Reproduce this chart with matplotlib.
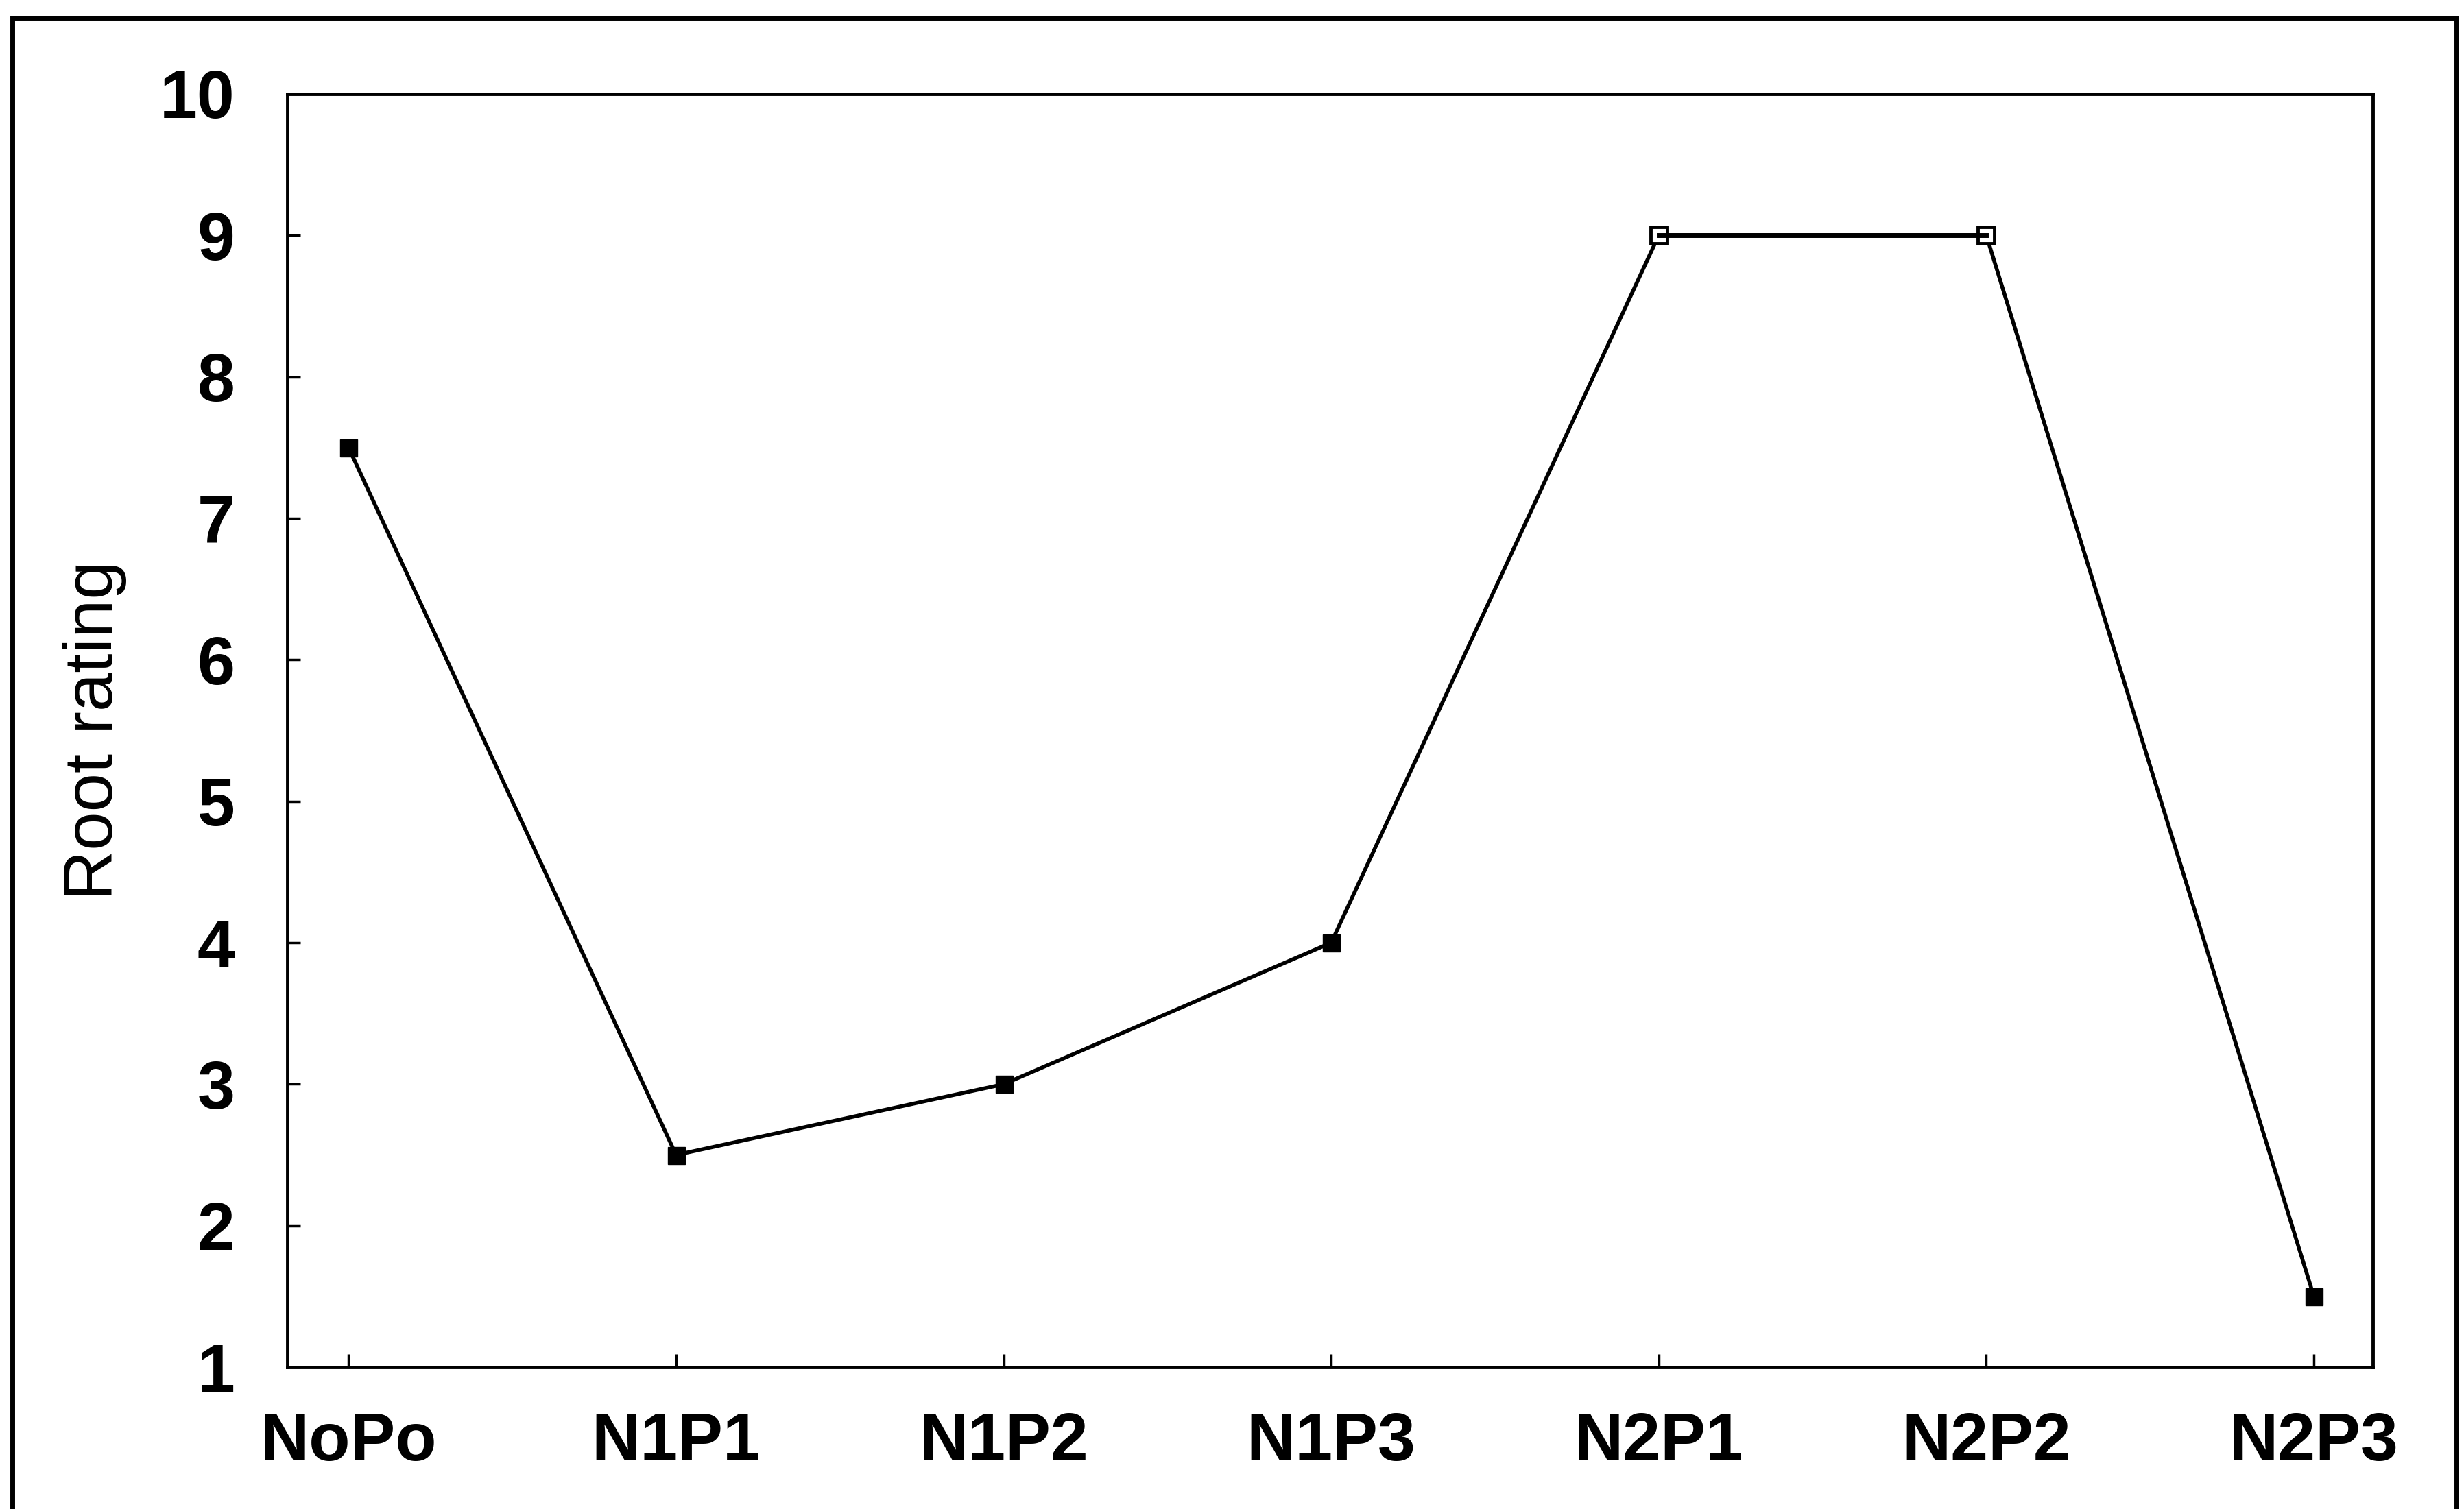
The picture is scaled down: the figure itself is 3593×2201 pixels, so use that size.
import matplotlib
matplotlib.use('Agg')
import matplotlib.pyplot as plt
from matplotlib.patches import Rectangle

# data
treatments = ['NoPo', 'N1P1', 'N1P2', 'N1P3', 'N2P1', 'N2P2', 'N2P3']
root_rating = [7.5, 2.5, 3.0, 4.0, 9.0, 9.0, 1.5]
open_points = [4, 5]  # drawn as hollow squares in the original
y_ticks = [1, 2, 3, 4, 5, 6, 7, 8, 9, 10]

plt.rcParams['font.family'] = ['Liberation Sans', 'DejaVu Sans']

fig = plt.figure(figsize=(35.93, 22.01), dpi=100)
ax = fig.add_axes([0.1166, 0.094, 0.8464, 0.8438])

x = list(range(len(treatments)))
ax.plot(x, root_rating, color='black', linewidth=4, marker='s',
        markersize=18, markerfacecolor='black', markeredgecolor='black', zorder=3)
ax.plot([x[i] for i in open_points], [root_rating[i] for i in open_points],
        linestyle='none', marker='s', markersize=17, markerfacecolor='white',
        markeredgecolor='black', markeredgewidth=3.5, zorder=4)
ax.plot([x[open_points[0]], x[open_points[-1]]],
        [root_rating[open_points[0]], root_rating[open_points[-1]]],
        color='black', linewidth=5, zorder=5)

ax.set_xlim(-0.187, 6.18)
ax.set_ylim(1, 10)
ax.set_xticks(x)
ax.set_xticklabels(treatments)
ax.set_yticks(y_ticks)

for s in ax.spines.values():
    s.set_linewidth(3.5)

ax.tick_params(axis='both', direction='in', length=14, width=2.5,
               labelsize=71)
ax.tick_params(axis='y', pad=55)
ax.tick_params(axis='x', pad=47)
for lbl in ax.get_xticklabels() + ax.get_yticklabels():
    lbl.set_fontweight('bold')

ax.set_ylabel('Root rating', fontsize=73)
ax.yaxis.set_label_coords(-0.077, 0.5)

# outer frame around the whole picture
fig.patches.append(Rectangle((0.005, -0.02), 0.992, 1.008, transform=fig.transFigure,
                             fill=False, edgecolor='black', linewidth=5))

fig.savefig('out.png', dpi=100, facecolor='white')
